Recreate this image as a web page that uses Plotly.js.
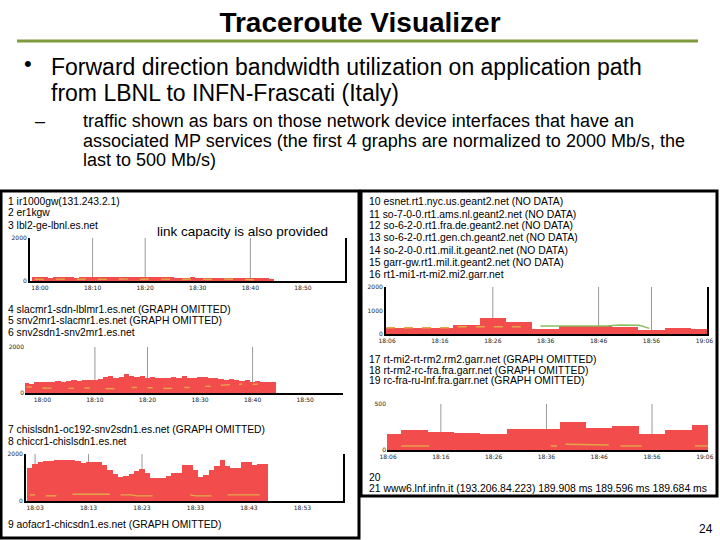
<!DOCTYPE html>
<html>
<head>
<meta charset="utf-8">
<script src="https://cdn.plot.ly/plotly-3.0.1.min.js"></script>
<style>html,body{margin:0;padding:0;background:#fff;}#chart{width:720px;height:540px;}</style>
</head>
<body>
<div id="chart"></div>
<script>
// ---------------- DATA ----------------
// Chart A: hops 1-3 (lbl2-ge-lbnl.es.net), minutes after 18:00, Mb/s (scale 2000)
const tA = [-1,0,1,2,3,4,5,6,7,8,9,10,11,12,13,14,15,16,17,18,19,20,21,22,23,24,25,26,27,28,29,30,31,32,33,34,35,36,37,38,39,40,41,42,43,44];
const bwA = [170,190,180,160,170,185,175,170,160,170,180,190,185,170,180,195,190,180,170,175,185,190,180,170,165,180,170,160,150,160,170,150,140,145,150,130,140,150,135,130,140,120,130,140,120,110];
const lnA = [80,90,70,null,85,95,80,null,70,90,100,null,80,90,75,null,90,100,85,null,70,80,95,null,85,90,80,null,70,90,100,null,80,85,70,null,90,95,80,null,70,75,60,null,null,null];
// Chart B: hop 6 (snv2sdn1-snv2mr1.es.net)
const tB = [-3,-2,-1,0,1,2,3,4,5,6,7,8,9,10,11,12,13,14,15,16,17,18,19,20,21,22,23,24,25,26,27,28,29,30,31,32,33,34,35,36,37,38,39,40,41,42,43,44];
const bwB = [430,390,470,470,500,470,530,500,530,560,530,560,570,570,610,710,740,670,710,830,760,690,740,670,700,640,670,640,700,640,740,670,640,700,700,640,670,610,560,590,560,530,560,470,530,470,500,470];
const lnB = [260,260,null,210,210,210,null,null,200,200,null,220,220,null,null,190,190,190,190,null,240,240,null,230,230,null,200,200,200,null,240,240,null,null,290,290,null,340,370,370,360,390,null,380,380,null,null,null];
// Chart C: hop 8 (chiccr1-chislsdn1.es.net), minutes after 18:03
const tC = [-1,0,1,2,3,4,5,6,7,8,9,10,11,12,13,14,15,16,17,18,19,20,21,22,23,24,25,26,27,28,29,30,31,32,33,34,35,36,37,38,39,40,41,42,43];
const bwC = [1400,1560,1640,1690,1720,1750,1760,1760,1750,1720,1620,1660,1680,1660,1540,1330,1150,1040,1060,1150,1260,1370,1190,970,970,1000,1070,1190,1200,1540,1540,1330,1040,1100,1300,1500,1760,1470,1400,1400,1640,1640,1540,1570,1570];
const lnC = [260,260,null,220,210,220,null,null,290,290,290,290,290,290,290,290,null,260,260,260,220,220,220,220,null,null,null,null,null,null,260,220,220,220,220,null,null,260,260,260,260,260,260,260,null];
// Chart D: hop 16 (rt1-mi1-rt-mi2.mi2.garr.net), minutes after 18:06, 5-min bins
const tD = [0,5,10,15,20,25,30,35,40,45,50,55,60];
const bwD = [270,270,270,380,690,490,210,340,340,310,170,270,210];
const lnDx = [-0.2,12.5,13,27];
const lnDy = [265,265,310,310];
const lnD2x = [29,41.5,44,47.7,49.6];
const lnD2y = [340,340,380,370,240];
// Chart E: hop 20 (scale 500)
const tE = [0,5,10,15,20,25,30,35,40,45,50,55,60];
const bwE = [174,217,196,185,174,228,228,304,239,261,174,217,272];
const lnEx = [2.5,7.8,null,30.8,32,null,33.6,38,38,41.8,null,44,48,null,58.1,60.6];
const lnEy = [44,44,null,44,44,null,62,62,55,55,null,44,44,null,44,44];
// tick labels
const tickVals = [0,10,20,30,40,50,60];
const ticksA = ['18:00','18:10','18:20','18:30','18:40','18:50','19:00'];
const ticksC = ['18:03','18:13','18:23','18:33','18:43','18:53','19:03'];
const ticksD = ['18:06','18:16','18:26','18:36','18:46','18:56','19:06'];
// marker lines (minutes)
const marksA = [10,20,40];
const marksB = [10,20,40];
const marksC = [0,10,20];
const marksD = [20,40,50];
const marksE = [10,30,50];
// texts
const leftHops = [
 ['1 ir1000gw(131.243.2.1)',201],['2 er1kgw',213],['3 lbl2-ge-lbnl.es.net',225],
 ['4 slacmr1-sdn-lblmr1.es.net (GRAPH OMITTED)',309],['5 snv2mr1-slacmr1.es.net (GRAPH OMITTED)',320],['6 snv2sdn1-snv2mr1.es.net',332],
 ['7 chislsdn1-oc192-snv2sdn1.es.net (GRAPH OMITTED)',429],['8 chiccr1-chislsdn1.es.net',441],
 ['9 aofacr1-chicsdn1.es.net (GRAPH OMITTED)',524]
];
const rightHops = [
 ['10 esnet.rt1.nyc.us.geant2.net (NO DATA)',202],['11 so-7-0-0.rt1.ams.nl.geant2.net (NO DATA)',214],
 ['12 so-6-2-0.rt1.fra.de.geant2.net (NO DATA)',225],['13 so-6-2-0.rt1.gen.ch.geant2.net (NO DATA)',237],
 ['14 so-2-0-0.rt1.mil.it.geant2.net (NO DATA)',250],['15 garr-gw.rt1.mil.it.geant2.net (NO DATA)',262],
 ['16 rt1-mi1-rt-mi2.mi2.garr.net',274],
 ['17 rt-mi2-rt-rm2.rm2.garr.net (GRAPH OMITTED)',359],['18 rt-rm2-rc-fra.fra.garr.net (GRAPH OMITTED)',370],
 ['19 rc-fra-ru-lnf.fra.garr.net (GRAPH OMITTED)',380],
 ['20',477],['21 www6.lnf.infn.it (193.206.84.223) 189.908 ms 189.596 ms 189.684 ms',488]
];

// ---------------- STYLE ----------------
const W=720,H=540;
const px = x => x/W, py = y => 1-y/H;
const RED='#f24c4c', ORANGE='#e0a848', GREEN='#86c060';
const FONT='Liberation Sans, Arial, sans-serif';
const TICKF={family:'DejaVu Sans, sans-serif', size:6, color:'#222'};

function bar(x,y,w,n){return {type:'bar',x:x,y:y,width:w,marker:{color:RED,line:{width:0}},xaxis:'x'+n,yaxis:'y'+n,hoverinfo:'skip',showlegend:false};}
function line(x,y,c,n,d){return {type:'scatter',mode:'lines',x:x,y:y,line:{color:c,width:1.4,dash:d||'solid'},connectgaps:false,xaxis:'x'+n,yaxis:'y'+n,hoverinfo:'skip',showlegend:false};}

const data=[
 bar(tA,bwA,1,''), line(tA,lnA,ORANGE,'', 'dash'),
 bar(tB,bwB,1,'2'), line(tB,lnB,ORANGE,'2','dash'),
 bar(tC,bwC,1,'3'), line(tC,lnC,ORANGE,'3'),
 bar(tD,bwD,5,'4'), line(lnDx,lnDy,ORANGE,'4','dash'), line(lnD2x,lnD2y,GREEN,'4'),
 bar(tE,bwE,5,'5'), line(lnEx,lnEy,ORANGE,'5')
];

function xax(x0,x1,y,range,tt){return {domain:[px(x0),px(x1)],range:range,anchor:y,tickvals:tickVals,ticktext:tt,showgrid:false,zeroline:false,showline:true,linecolor:'black',linewidth:2,ticks:'',tickfont:TICKF,fixedrange:true};}
function yax(y0,y1,x,range,tv,opt){return Object.assign({domain:[py(y1),py(y0)],range:range,anchor:x,tickvals:tv,ticktext:tv.map(String),showgrid:false,zeroline:false,showline:false,ticks:'',tickfont:TICKF,fixedrange:true},opt||{});}

const shapes=[
 {type:'rect',xref:'paper',yref:'paper',x0:px(1),x1:px(359),y0:py(538),y1:py(191),line:{color:'black',width:3},fillcolor:'white',layer:'below'},
 {type:'rect',xref:'paper',yref:'paper',x0:px(361),x1:px(717),y0:py(496),y1:py(191),line:{color:'black',width:3},fillcolor:'white',layer:'below'},
 {type:'line',xref:'paper',yref:'paper',x0:px(17),x1:px(698),y0:py(41),y1:py(41),line:{color:'#7f9a3a',width:3}}
];
[[marksA,''],[marksB,'2'],[marksC,'3'],[marksD,'4'],[marksE,'5']].forEach(([m,n])=>{
 m.forEach(v=>shapes.push({type:'line',xref:'x'+n,yref:'y'+(n)+' domain',x0:v,x1:v,y0:0,y1:1,line:{color:'#999',width:1},layer:'below'}));
});

const ann=[];
function txt(t,x,y,size,opt){ann.push(Object.assign({text:t,xref:'paper',yref:'paper',x:px(x),y:py(y),xanchor:'left',yanchor:'middle',showarrow:false,font:{family:FONT,size:size,color:'black'}},opt||{}));}
txt('•',22,63,22);
txt('Forward direction bandwidth utilization on application path',49,67,23);
txt('from LBNL to INFN-Frascati (Italy)',49,93,23);
txt('–',33,121,18);
txt('traffic shown as bars on those network device interfaces that have an',81,121,18);
txt('associated MP services (the first 4 graphs are normalized to 2000 Mb/s, the',81,141,18);
txt('last to 500 Mb/s)',81,160,18);
txt('link capacity is also provided',155,231,13.5);
leftHops.forEach(([t,y])=>txt(t,6,y,10.3));
rightHops.forEach(([t,y])=>txt(t,367,y,10.4));
txt('24',697,529,12);

const layout={
 width:W,height:H,margin:{l:0,r:0,t:0,b:0},paper_bgcolor:'white',plot_bgcolor:'rgba(0,0,0,0)',
 bargap:0,showlegend:false,
 title:{text:'<b>Traceroute Visualizer</b>',font:{family:'Liberation Sans, Arial',size:28,color:'black'},x:0.5,xanchor:'center',yref:'container',y:py(22),yanchor:'middle'},
 xaxis: xax(30,345,'y',[-1.9,58],ticksA),
 yaxis: yax(238,281,'x',[0,2000],[0,2000],{showline:true,linecolor:'black',linewidth:2,mirror:true}),
 xaxis2: xax(25,343,'y2',[-3.3,57.2],ticksA),
 yaxis2: yax(347,393,'x2',[0,2000],[0,2000],{showgrid:true,gridcolor:'#aaa',gridwidth:1}),
 xaxis3: xax(26,343,'y3',[-1.7,57.6],ticksC),
 yaxis3: yax(454,501,'x3',[0,2000],[0,2000],{showline:true,linecolor:'black',linewidth:2,mirror:true}),
 xaxis4: xax(386,707,'y4',[-0.2,60.5],ticksD),
 yaxis4: yax(287,334,'x4',[0,2000],[0,1000,2000],{showline:true,linecolor:'black',linewidth:2,mirror:true}),
 xaxis5: xax(387,708,'y5',[-0.2,60.6],ticksD),
 yaxis5: yax(404,450,'x5',[0,500],[0,500]),
 shapes:shapes, annotations:ann
};
Plotly.newPlot('chart',data,layout,{staticPlot:true,displayModeBar:false});
</script>
</body>
</html>
